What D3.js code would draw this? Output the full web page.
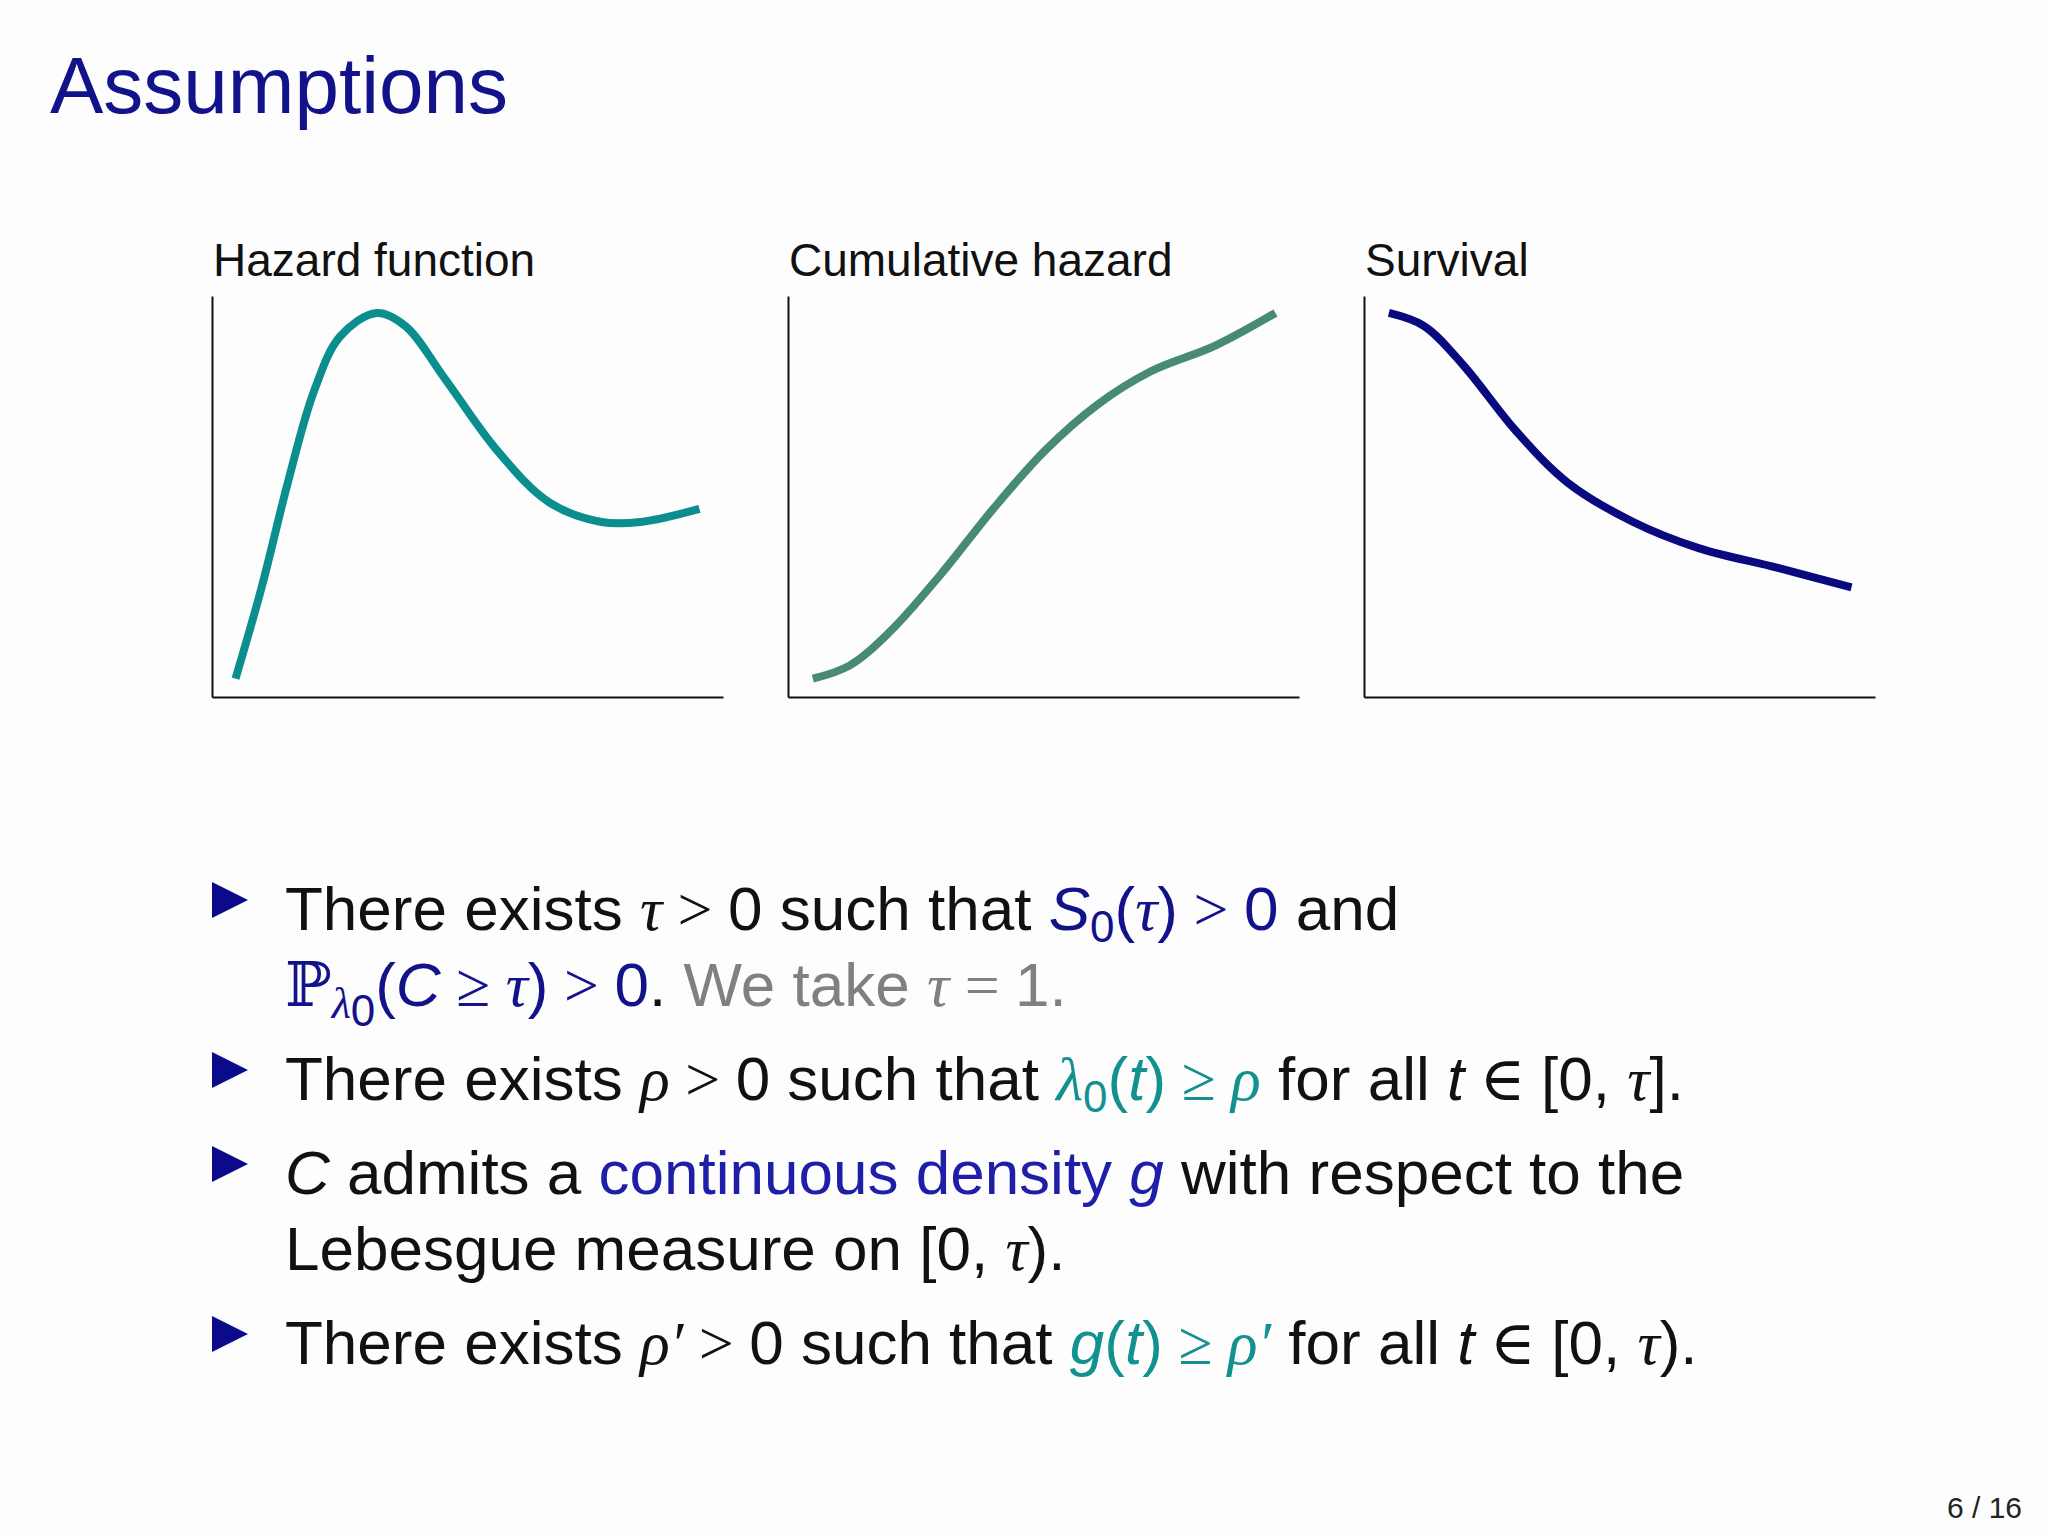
<!DOCTYPE html>
<html><head><meta charset="utf-8">
<script src="https://cdn.jsdelivr.net/npm/d3@7"></script>
<style>body{margin:0;background:#fff}svg{display:block}</style>
</head><body>
<script>
// Data (arbitrary units, x in [0,391], y in [0,307])
const panelTitles = ["Hazard function", "Cumulative hazard", "Survival"];
const hazardX = [18,38,58,78,98,126,148,178,218,258,298,328,373];
const hazardY = [14,84,164,234,276,294,284,244,189,149,134,134,144];
const cumX = [19,47,77,117,157,197,237,277,327,373];
const cumY = [14,24,49,94,144,189,224,249,269,294];
const survX = [19,46,76,116,156,206,256,316,373];
const survY = [294,284,254,204,164,134,114,99,84];

(function(){
const W = 2048, H = 1536;
const svg = d3.select("body").append("svg").attr("width", W).attr("height", H);
svg.append("rect").attr("width", W).attr("height", H).attr("fill", "#fdfdfd");

svg.append("text").attr("x", 50).attr("y", 113).attr("font-family", "Liberation Sans, Arial")
  .attr("font-size", 80).attr("fill", "#12128a").text("Assumptions");

const panels = [
  {x0: 212, title: panelTitles[0], xs: hazardX, ys: hazardY, color: "#0b8e8e"},
  {x0: 788, title: panelTitles[1], xs: cumX, ys: cumY, color: "#478a76"},
  {x0: 1364, title: panelTitles[2], xs: survX, ys: survY, color: "#0a0a80"}
];
const yTop = 296, yBot = 697, pw = 511;
panels.forEach(p => {
  const x = d3.scaleLinear().domain([0, 391]).range([p.x0, p.x0 + pw]);
  const y = d3.scaleLinear().domain([0, 307]).range([yBot, yTop]);
  const g = svg.append("g");
  g.append("g").attr("transform", `translate(0,${yBot})`)
    .call(d3.axisBottom(x).ticks(0).tickSizeOuter(0))
    .call(s => s.select(".domain").attr("stroke", "#111").attr("stroke-width", 2));
  g.append("g").attr("transform", `translate(${p.x0},0)`)
    .call(d3.axisLeft(y).ticks(0).tickSizeOuter(0))
    .call(s => s.select(".domain").attr("stroke", "#111").attr("stroke-width", 2));
  const line = d3.line().x(d => x(d[0])).y(d => y(d[1])).curve(d3.curveCatmullRom.alpha(0.5));
  g.append("path").datum(p.xs.map((v, i) => [v, p.ys[i]]))
    .attr("d", line).attr("fill", "none").attr("stroke", p.color)
    .attr("stroke-width", 8).attr("stroke-linecap", "butt");
  g.append("text").attr("x", p.x0 + 1).attr("y", 276)
    .attr("font-family", "Liberation Sans, Arial").attr("font-size", 46).attr("fill", "#111").text(p.title);
});

const K = "#111", B = "#12128a", T = "#139090", G = "#808080", CB = "#1e1ea8";
const S = "Liberation Sans, Arial", M = "Liberation Serif, DejaVu Serif";
const lines = [
  {y: 930, bullet: true, segs: [["There exists ",K,S],["τ",K,M,1],[" > ",K,M],["0 such that ",K,S],["S",B,S,1],["0",B,S,0,1],["(",B,S],["τ",B,M,1],[")",B,S],[" > ",B,M],["0",B,S],[" and",K,S]]},
  {y: 1006, segs: [["ℙ",B,"DejaVu Serif"],["λ",B,M,1,1],["0",B,S,0,2],["(",B,S],["C",B,S,1],[" ≥ ",B,M],["τ",B,M,1],[")",B,S],[" > ",B,M],["0",B,S],[". ",K,S],["We take ",G,S],["τ",G,M,1],[" = ",G,M],["1.",G,S]]},
  {y: 1100, bullet: true, segs: [["There exists ",K,S],["ρ",K,M,1],[" > ",K,M],["0 such that ",K,S],["λ",T,M,1],["0",T,S,0,1],["(",T,S],["t",T,S,1],[")",T,S],[" ≥ ",T,M],["ρ",T,M,1],[" for all ",K,S],["t",K,S,1],[" ∈ ",K,M],["[0, ",K,S],["τ",K,M,1],["].",K,S]]},
  {y: 1194, bullet: true, segs: [["C",K,S,1],[" admits a ",K,S],["continuous density ",CB,S],["g",CB,S,1],[" with respect to the",K,S]]},
  {y: 1270, segs: [["Lebesgue measure on [0, ",K,S],["τ",K,M,1],[").",K,S]]},
  {y: 1364, bullet: true, segs: [["There exists ",K,S],["ρ′",K,M,1],[" > ",K,M],["0 such that ",K,S],["g",T,S,1],["(",T,S],["t",T,S,1],[")",T,S],[" ≥ ",T,M],["ρ′",T,M,1],[" for all ",K,S],["t",K,S,1],[" ∈ ",K,M],["[0, ",K,S],["τ",K,M,1],[").",K,S]]}
];
lines.forEach(l => {
  if (l.bullet) {
    svg.append("path").attr("d", `M212,${l.y-48} L248,${l.y-30} L212,${l.y-12} Z`).attr("fill", "#0a0a8a");
  }
  const t = svg.append("text").attr("x", 285).attr("y", l.y).attr("font-size", 62).style("white-space", "pre");
  let shift = 0;
  l.segs.forEach(s => {
    const sub = s[4] || 0;
    const target = sub === 1 ? 12 : sub === 2 ? 20 : 0;
    const ts = t.append("tspan").text(s[0]).attr("fill", s[1]).attr("font-family", s[2])
      .attr("font-style", s[3] ? "italic" : "normal").attr("dy", target - shift);
    if (sub) ts.attr("font-size", 44);
    shift = target;
  });
});

svg.append("text").attr("x", 2022).attr("y", 1518).attr("text-anchor", "end")
  .attr("font-family", S).attr("font-size", 30).attr("fill", "#222").text("6 / 16");
})();
</script>
</body></html>
